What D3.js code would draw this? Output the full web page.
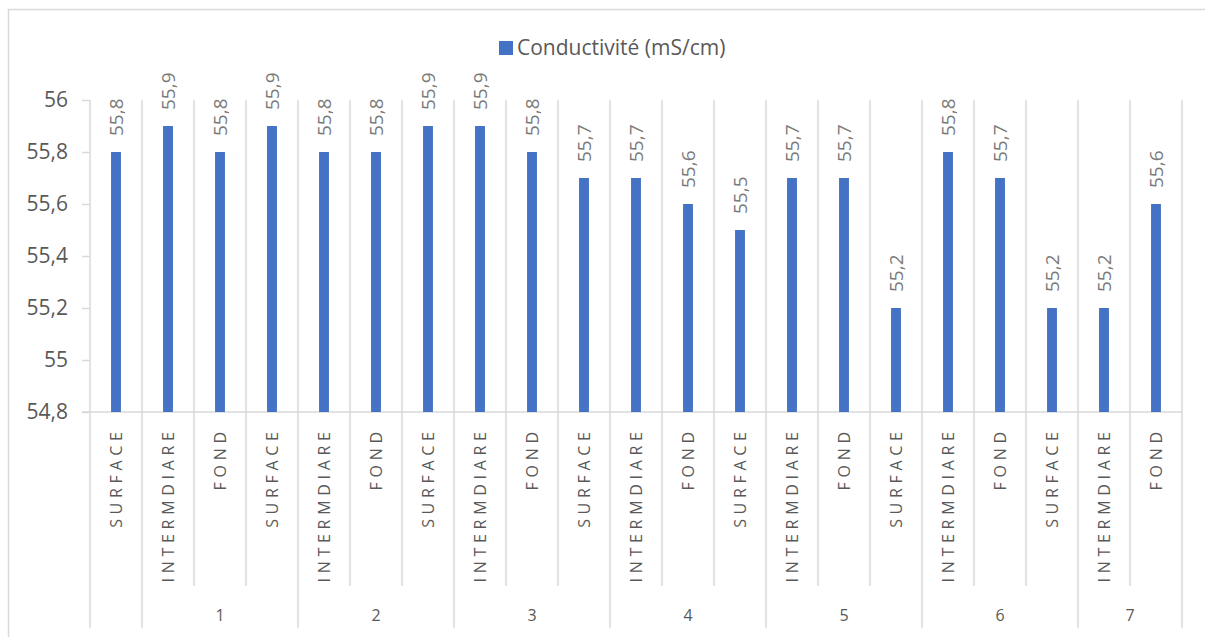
<!DOCTYPE html>
<html>
<head>
<meta charset="utf-8">
<script src="https://cdn.jsdelivr.net/npm/d3@7"></script>
<style>
  html, body { margin: 0; padding: 0; background: #fff; }
  svg { display: block; font-family: "Open Sans", "Noto Sans", sans-serif; }
</style>
</head>
<body>
<svg id="chart" width="1205" height="637"></svg>
<script>
// Conductivity per sampling depth, grouped by station
const categories = [
  "SURFACE", "INTERMDIARE", "FOND",
  "SURFACE", "INTERMDIARE", "FOND",
  "SURFACE", "INTERMDIARE", "FOND",
  "SURFACE", "INTERMDIARE", "FOND",
  "SURFACE", "INTERMDIARE", "FOND",
  "SURFACE", "INTERMDIARE", "FOND",
  "SURFACE", "INTERMDIARE", "FOND"
];
const conductivity = [
  55.8, 55.9, 55.8,
  55.9, 55.8, 55.8,
  55.9, 55.9, 55.8,
  55.7, 55.7, 55.6,
  55.5, 55.7, 55.7,
  55.2, 55.8, 55.7,
  55.2, 55.2, 55.6
];
const groupLabels = ["", "1", "2", "3", "4", "5", "6", "7"];
const groupSpans = [1, 3, 3, 3, 3, 3, 3, 2];
const yTicks = [54.8, 55, 55.2, 55.4, 55.6, 55.8, 56];
const seriesName = "Conductivité (mS/cm)";

const grid = "#d9d9d9";
const textColor = "#595959";
const labelColor = "#7a7a7a";
const barColor = "#4472C4";

const svg = d3.select("#chart");

const plot = { left: 90, right: 1182, top: 100, bottom: 412 };
const catBottom = 586, groupBottom = 628;

const fr = d3.formatLocale({ decimal: ",", thousands: " ", grouping: [3], currency: ["", " €"] });
const fmt = fr.format(".1~f");

// outer frame
svg.append("rect")
  .attr("x", 8.5).attr("y", 9.5)
  .attr("width", 1205).attr("height", 640)
  .attr("fill", "none").attr("stroke", grid).attr("stroke-width", 1.5);

const idx = d3.range(categories.length);
const x = d3.scaleBand().domain(idx).range([plot.left, plot.right])
  .paddingInner(0.81).paddingOuter(0.405);
const slot = d3.scaleBand().domain(idx).range([plot.left, plot.right]).padding(0);
const y = d3.scaleLinear().domain([54.8, 56]).range([plot.bottom, plot.top]);

// vertical category gridlines + ticks into the label band
const boundaries = idx.map(i => slot(i)).concat([plot.right]);
svg.append("g").selectAll("line").data(boundaries).join("line")
  .attr("x1", d => d).attr("x2", d => d)
  .attr("y1", plot.top).attr("y2", catBottom)
  .attr("stroke", grid).attr("stroke-width", 1.5);

// group dividers
let acc = 0;
const groupEdges = [slot(0)];
groupSpans.forEach(s => { acc += s; groupEdges.push(acc < categories.length ? slot(acc) : plot.right); });
svg.append("g").selectAll("line").data(groupEdges).join("line")
  .attr("x1", d => d).attr("x2", d => d)
  .attr("y1", catBottom).attr("y2", groupBottom)
  .attr("stroke", grid).attr("stroke-width", 1.5);

// y axis
const yAxis = d3.axisLeft(y).tickValues(yTicks).tickFormat(fmt).tickSize(8).tickPadding(14);
const yg = svg.append("g").attr("transform", `translate(${plot.left},0)`).call(yAxis);
yg.select(".domain").remove();
yg.selectAll(".tick line").attr("stroke", grid).attr("stroke-width", 1.5);
yg.selectAll(".tick text").attr("fill", textColor).style("font-size", "21px")
  .style("font-family", "'Open Sans', sans-serif");

// x axis baseline
svg.append("line")
  .attr("x1", plot.left - 8).attr("x2", plot.right)
  .attr("y1", plot.bottom).attr("y2", plot.bottom)
  .attr("stroke", grid).attr("stroke-width", 1.5);

// bars
svg.append("g").selectAll("rect").data(conductivity).join("rect")
  .attr("x", (d, i) => x(i))
  .attr("width", x.bandwidth())
  .attr("y", d => y(d))
  .attr("height", d => y(54.8) - y(d))
  .attr("fill", barColor);

// value labels
svg.append("g").selectAll("text").data(conductivity).join("text")
  .attr("transform", (d, i) => `translate(${x(i) + x.bandwidth() / 2 + 7},${y(d) - 16}) rotate(-90)`)
  .attr("text-anchor", "start")
  .attr("fill", labelColor)
  .style("font-size", "19px")
  .text(d => fmt(d));

// category labels
const ls = 4.7;
svg.append("g").selectAll("text").data(categories).join("text")
  .attr("transform", (d, i) => `translate(${slot(i) + slot.bandwidth() / 2 + 6},${432 - ls}) rotate(-90)`)
  .attr("text-anchor", "end")
  .attr("fill", textColor)
  .style("font-size", "16px")
  .style("letter-spacing", ls + "px")
  .text(d => d);

// group labels
svg.append("g").selectAll("text").data(groupLabels).join("text")
  .attr("x", (d, i) => (groupEdges[i] + groupEdges[i + 1]) / 2)
  .attr("y", 615)
  .attr("dy", "0.35em")
  .attr("text-anchor", "middle")
  .attr("fill", textColor)
  .style("font-size", "16px")
  .text(d => d);

// legend
const lg = svg.append("g").attr("transform", "translate(499,41)");
lg.append("rect").attr("width", 14).attr("height", 14).attr("fill", barColor);
lg.append("text").attr("x", 18).attr("y", 7).attr("dy", "0.35em")
  .attr("fill", textColor).style("font-size", "21px").text(seriesName);
</script>
</body>
</html>
